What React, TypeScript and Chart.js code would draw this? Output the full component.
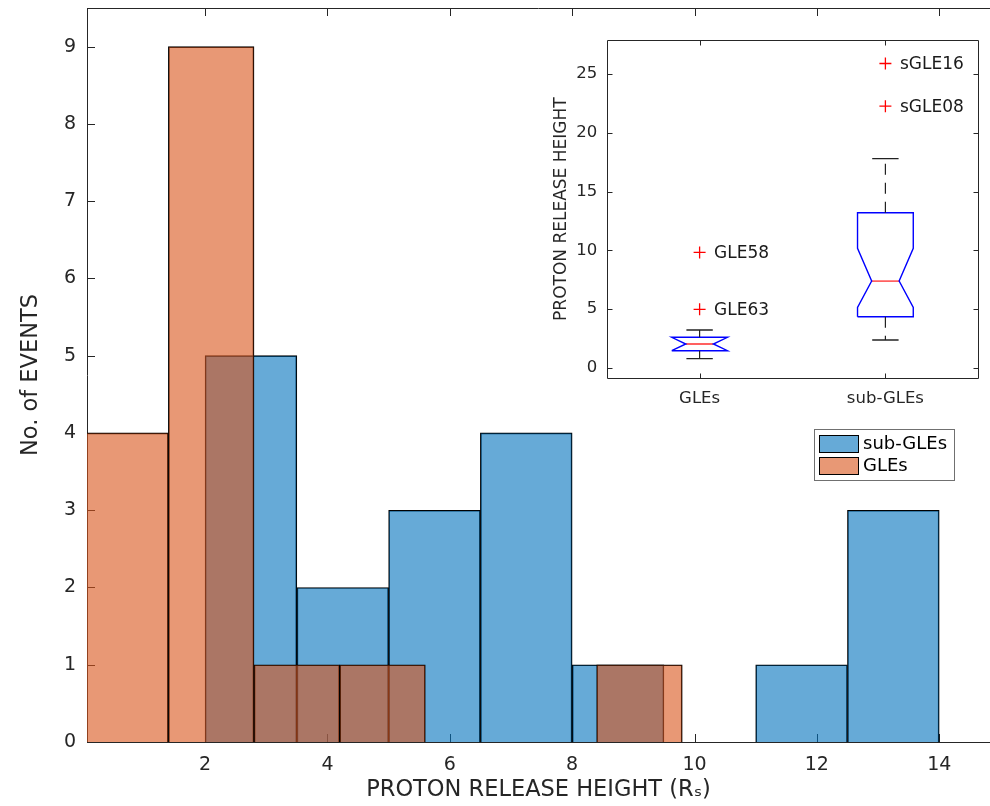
import React, { useEffect, useRef } from 'react';
import { Chart, registerables } from 'chart.js';

Chart.register(...registerables);

// ---------------- Main histogram data ----------------
const subGleEdges = [2.0, 3.5, 5.0, 6.5, 8.0, 9.5, 11.0, 12.5, 14.0];
const subGleCounts = [5, 2, 3, 4, 1, 0, 1, 3];
const gleEdges = [0.0, 1.4, 2.8, 4.2, 5.6, 7.0, 8.4, 9.8];
const gleCounts = [4, 9, 1, 1, 0, 0, 1];
const xTickValues = [2, 4, 6, 8, 10, 12, 14];
const yTickValues = [0, 1, 2, 3, 4, 5, 6, 7, 8, 9];
const xRange = [0.07, 14.83];
const yRange = [0, 9.5];
const legendLabels = ['sub-GLEs', 'GLEs'];

// ---------------- Inset box plot data ----------------
const boxCategories = ['GLEs', 'sub-GLEs'];
const boxQ1 = [1.45, 4.34];
const boxMedian = [2.02, 7.38];
const boxQ3 = [2.59, 13.19];
const notchLow = [1.45, 5.14];
const notchHigh = [2.59, 10.16];
const whiskerLow = [0.77, 2.36];
const whiskerHigh = [3.21, 17.8];
const outlierGroup = [0, 0, 1, 1];
const outlierValues = [9.82, 4.97, 25.9, 22.27];
const outlierLabels = ['GLE58', 'GLE63', 'sGLE16', 'sGLE08'];
const insetYTicks = [0, 5, 10, 15, 20, 25];
const insetYRange = [-0.9, 27.9];
const insetXRange = [0.5, 2.5];

const FONT = 'DejaVu Sans';
const AXIS = '#262626';
const BLUE_FILL = 'rgba(0,114,189,0.6)';
const ORANGE_FILL = 'rgba(217,83,25,0.6)';

const centers = (edges: number[]) => edges.slice(0, -1).map((e, i) => (e + edges[i + 1]) / 2);

const noPad = (s: any) => {
  s.paddingTop = 0;
  s.paddingBottom = 0;
  s.paddingLeft = 0;
  s.paddingRight = 0;
};

const mainDecor = {
  id: 'mainDecor',
  beforeDatasetsDraw(chart: any) {
    const { ctx, chartArea: a, scales } = chart;
    ctx.save();
    ctx.strokeStyle = AXIS;
    ctx.lineWidth = 1;
    ctx.beginPath();
    for (const v of xTickValues) {
      const px = Math.round(scales.x.getPixelForValue(v)) + 0.5;
      ctx.moveTo(px, a.bottom);
      ctx.lineTo(px, a.bottom - 8);
      ctx.moveTo(px, a.top);
      ctx.lineTo(px, a.top + 8);
    }
    for (const v of yTickValues) {
      const py = Math.round(scales.y.getPixelForValue(v)) + 0.5;
      ctx.moveTo(a.left, py);
      ctx.lineTo(a.left + 8, py);
    }
    ctx.moveTo(a.left, Math.round(a.top) + 0.5);
    ctx.lineTo(a.right, Math.round(a.top) + 0.5);
    ctx.stroke();
    ctx.restore();
  },
  afterDraw(chart: any) {
    const { ctx } = chart;
    ctx.save();
    ctx.fillStyle = '#ffffff';
    ctx.fillRect(814, 429.5, 140, 51);
    ctx.strokeStyle = '#707070';
    ctx.lineWidth = 1;
    ctx.strokeRect(814.5, 429.5, 140, 51);
    const fills = [BLUE_FILL, ORANGE_FILL];
    const ys = [435.5, 457.5];
    ctx.font = `18px "${FONT}"`;
    ctx.textBaseline = 'middle';
    ctx.textAlign = 'left';
    legendLabels.forEach((lab, i) => {
      ctx.fillStyle = fills[i];
      ctx.fillRect(819.5, ys[i], 39, 17);
      ctx.strokeStyle = '#000';
      ctx.strokeRect(819.5, ys[i], 39, 17);
      ctx.fillStyle = '#000';
      ctx.fillText(lab, 863, ys[i] + 9);
    });
    ctx.restore();
  },
};

const insetDecor = {
  id: 'insetDecor',
  beforeDraw(chart: any) {
    const { ctx, chartArea: a } = chart;
    ctx.save();
    ctx.fillStyle = '#ffffff';
    ctx.fillRect(a.left, a.top, a.right - a.left, a.bottom - a.top);
    ctx.restore();
  },
  beforeDatasetsDraw(chart: any) {
    const { ctx, chartArea: a, scales } = chart;
    ctx.save();
    ctx.strokeStyle = AXIS;
    ctx.lineWidth = 1;
    ctx.beginPath();
    const L = Math.round(a.left) + 0.5, R = Math.round(a.right) + 0.5;
    const T = Math.round(a.top) + 0.5, B = Math.round(a.bottom) + 0.5;
    ctx.rect(L, T, R - L, B - T);
    for (let i = 0; i < boxCategories.length; i++) {
      const px = Math.round(scales.x.getPixelForValue(i + 1)) + 0.5;
      ctx.moveTo(px, B);
      ctx.lineTo(px, B - 5);
      ctx.moveTo(px, T);
      ctx.lineTo(px, T + 5);
    }
    for (const v of insetYTicks) {
      const py = Math.round(scales.y.getPixelForValue(v)) + 0.5;
      ctx.moveTo(L, py);
      ctx.lineTo(L + 5, py);
      ctx.moveTo(R, py);
      ctx.lineTo(R - 5, py);
    }
    ctx.stroke();
    ctx.restore();
  },
  afterDatasetsDraw(chart: any) {
    const { ctx, scales } = chart;
    ctx.save();
    ctx.font = `17px "${FONT}"`;
    ctx.fillStyle = '#1a1a1a';
    ctx.textAlign = 'left';
    ctx.textBaseline = 'middle';
    outlierValues.forEach((v, i) => {
      const px = scales.x.getPixelForValue(outlierGroup[i] + 1);
      const py = scales.y.getPixelForValue(v);
      ctx.fillText(outlierLabels[i], px + 14.5, py + 1);
    });
    ctx.restore();
  },
};

function buildInsetDatasets() {
  const hw = 0.15, nw = 0.074, cw = 0.071;
  const ds: any[] = [];
  const line = (data: any[], color: string, width: number, dash: number[] = []) => ({
    data,
    showLine: true,
    borderColor: color,
    borderWidth: width,
    borderDash: dash,
    pointRadius: 0,
    fill: false,
    tension: 0,
  });
  boxCategories.forEach((_, i) => {
    const c = i + 1;
    ds.push(line([{ x: c, y: boxQ3[i] }, { x: c, y: whiskerHigh[i] }], '#222', 1.2, [11, 8]));
    ds.push(line([{ x: c, y: boxQ1[i] }, { x: c, y: whiskerLow[i] }], '#222', 1.2, [11, 8]));
    ds.push(line([{ x: c - cw, y: whiskerHigh[i] }, { x: c + cw, y: whiskerHigh[i] }], '#222', 1.3));
    ds.push(line([{ x: c - cw, y: whiskerLow[i] }, { x: c + cw, y: whiskerLow[i] }], '#222', 1.3));
    ds.push(
      line(
        [
          { x: c - hw, y: boxQ1[i] },
          { x: c - hw, y: notchLow[i] },
          { x: c - nw, y: boxMedian[i] },
          { x: c - hw, y: notchHigh[i] },
          { x: c - hw, y: boxQ3[i] },
          { x: c + hw, y: boxQ3[i] },
          { x: c + hw, y: notchHigh[i] },
          { x: c + nw, y: boxMedian[i] },
          { x: c + hw, y: notchLow[i] },
          { x: c + hw, y: boxQ1[i] },
          { x: c - hw, y: boxQ1[i] },
        ],
        '#0000ff',
        1.4
      )
    );
    ds.push(line([{ x: c - nw, y: boxMedian[i] }, { x: c + nw, y: boxMedian[i] }], '#ff6060', 1.8));
  });
  ds.push({
    data: outlierValues.map((v, i) => ({ x: outlierGroup[i] + 1, y: v })),
    showLine: false,
    pointStyle: 'cross',
    pointRadius: 6,
    pointBorderColor: '#ff0000',
    pointBorderWidth: 1.3,
    borderColor: '#ff0000',
  });
  return ds;
}

export default function App() {
  const mainRef = useRef<HTMLCanvasElement>(null);
  const insetRef = useRef<HTMLCanvasElement>(null);

  useEffect(() => {
    Chart.defaults.font.family = FONT;
    const tickFont = { family: FONT, size: 19 };
    const titleFont = { family: FONT, size: 22.5 };
    const main = new Chart(mainRef.current!, {
      type: 'bar',
      data: {
        datasets: [
          {
            label: 'GLEs',
            data: centers(gleEdges).map((x, i) => ({ x, y: gleCounts[i] })),
            backgroundColor: ORANGE_FILL,
            borderColor: '#000',
            borderWidth: 1,
            xAxisID: 'xg',
            order: 0,
            clip: 0,
          } as any,
          {
            label: 'sub-GLEs',
            data: centers(subGleEdges).map((x, i) => ({ x, y: subGleCounts[i] })),
            backgroundColor: BLUE_FILL,
            borderColor: '#000',
            borderWidth: 1,
            xAxisID: 'x',
            order: 1,
            clip: 0,
          } as any,
        ],
      },
      options: {
        responsive: false,
        animation: false,
        layout: { padding: { top: 8, left: 0, right: 0, bottom: 0 } },
        datasets: { bar: { barPercentage: 1, categoryPercentage: 1, grouped: false } },
        plugins: { legend: { display: false }, tooltip: { enabled: false } },
        scales: {
          x: {
            type: 'linear',
            offset: false,
            min: xRange[0],
            max: xRange[1],
            afterBuildTicks: (s: any) => {
              s.ticks = xTickValues.map((v) => ({ value: v }));
            },
            afterFit: (s: any) => {
              s.height = 64;
              noPad(s);
            },
            grid: { display: false, drawTicks: false, offset: false },
            border: { display: true, color: AXIS, width: 1 },
            ticks: { font: tickFont, color: AXIS, padding: 12, maxRotation: 0 },
            title: {
              display: true,
              text: 'PROTON RELEASE HEIGHT (Rₛ)',
              font: titleFont,
              color: AXIS,
              padding: { top: 0, bottom: 2 },
            },
          },
          xg: {
            type: 'linear',
            display: false,
            offset: false,
            min: xRange[0],
            max: xRange[1],
          },
          y: {
            type: 'linear',
            min: yRange[0],
            max: yRange[1],
            afterBuildTicks: (s: any) => {
              s.ticks = yTickValues.map((v) => ({ value: v }));
            },
            afterFit: (s: any) => {
              s.width = 87;
              noPad(s);
            },
            grid: { display: false, drawTicks: false },
            border: { display: true, color: AXIS, width: 1 },
            ticks: { font: tickFont, color: AXIS, padding: 11 },
            title: {
              display: true,
              text: 'No. of EVENTS',
              font: titleFont,
              color: AXIS,
              padding: { top: 18, bottom: 0 },
            },
          },
        },
      } as any,
      plugins: [mainDecor],
    });

    const inset = new Chart(insetRef.current!, {
      type: 'scatter',
      data: { datasets: buildInsetDatasets() },
      options: {
        responsive: false,
        animation: false,
        layout: { padding: { top: 20, left: 0, right: 11.7, bottom: 0 } },
        plugins: { legend: { display: false }, tooltip: { enabled: false } },
        scales: {
          x: {
            type: 'linear',
            min: insetXRange[0],
            max: insetXRange[1],
            afterBuildTicks: (s: any) => {
              s.ticks = boxCategories.map((_, i) => ({ value: i + 1 }));
            },
            afterFit: (s: any) => {
              s.height = 41.7;
              noPad(s);
            },
            grid: { display: false, drawTicks: false },
            border: { display: false },
            ticks: {
              font: { family: FONT, size: 16.5 },
              color: AXIS,
              padding: 10.5,
              maxRotation: 0,
              callback: (v: any) => boxCategories[Math.round(v) - 1],
            },
          },
          y: {
            type: 'linear',
            min: insetYRange[0],
            max: insetYRange[1],
            afterBuildTicks: (s: any) => {
              s.ticks = insetYTicks.map((v) => ({ value: v }));
            },
            afterFit: (s: any) => {
              s.width = 66.7;
              noPad(s);
            },
            grid: { display: false, drawTicks: false },
            border: { display: false },
            ticks: { font: { family: FONT, size: 16.5 }, color: AXIS, padding: 9.5 },
            title: {
              display: true,
              text: 'PROTON RELEASE HEIGHT',
              font: { family: FONT, size: 17 },
              color: AXIS,
              padding: { top: 11, bottom: 0 },
            },
          },
        },
      } as any,
      plugins: [insetDecor],
    });

    return () => {
      main.destroy();
      inset.destroy();
    };
  }, []);

  return (
    <div style={{ position: 'absolute', left: 0, top: 0, width: 990, height: 806, background: '#fff' }}>
      <canvas ref={mainRef} width={990} height={806} style={{ position: 'absolute', left: 0, top: 0 }} />
      <canvas ref={insetRef} width={450} height={400} style={{ position: 'absolute', left: 540, top: 20 }} />
    </div>
  );
}
